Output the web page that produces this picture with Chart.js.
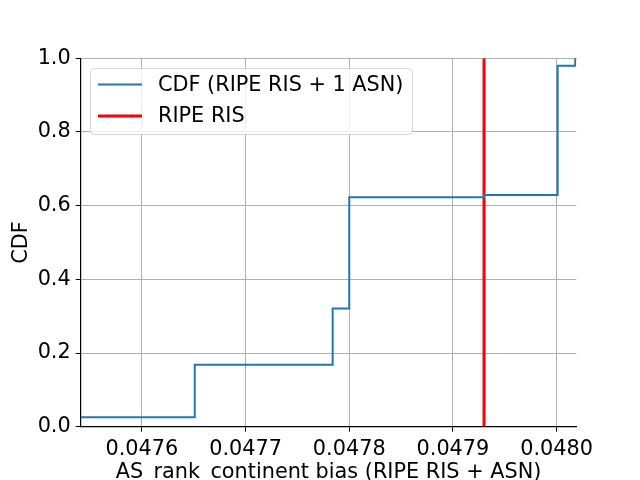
<!DOCTYPE html>
<html>
<head>
<meta charset="utf-8">
<script src="https://cdn.jsdelivr.net/npm/chart.js@4"></script>
<style>
  html, body { margin: 0; padding: 0; background: #fff; }
  #wrap { width: 640px; height: 480px; }
</style>
</head>
<body>
<div id="wrap"><canvas id="c" width="640" height="480"></canvas></div>
<script>
// step CDF
const cdfX = [0.047541, 0.047651, 0.047784, 0.047800, 0.047930, 0.048001, 0.048018, 0.048030];
const cdfY = [0.0256, 0.168, 0.321, 0.623, 0.629, 0.980, 1.0, 1.0];
const ripeX = 0.047930;
const xTicks = [0.0476, 0.0477, 0.0478, 0.0479, 0.0480];
const yTicks = [0.0, 0.2, 0.4, 0.6, 0.8, 1.0];
const labels = ['CDF (RIPE RIS + 1 ASN)', 'RIPE RIS'];

const FONT = 'DejaVu Sans';
const FSIZE = 20.8;
const GRID = '#b0b0b0';

const legendBox = {
    id: 'legendBox',
    afterDraw(chart) {
        const ctx = chart.ctx;
        const x = 90.5, y = 68.5, w = 322, h = 66, r = 4;
        ctx.save();
        ctx.beginPath();
        ctx.roundRect(x, y, w, h, r);
        ctx.fillStyle = 'rgba(255,255,255,0.8)';
        ctx.fill();
        ctx.strokeStyle = 'rgba(204,204,204,0.8)';
        ctx.lineWidth = 1;
        ctx.stroke();
        ctx.font = FSIZE + 'px "' + FONT + '"';
        ctx.textBaseline = 'middle';
        ctx.fillStyle = '#000';
        chart.data.datasets.forEach((ds, i) => {
            const cy = 84.5 + i * 31.5;
            ctx.beginPath();
            ctx.moveTo(98, cy);
            ctx.lineTo(142, cy);
            ctx.strokeStyle = ds.borderColor;
            ctx.lineWidth = ds.borderWidth;
            ctx.stroke();
            ctx.fillText(ds.label, 158, cy + 1);
        });
        ctx.restore();
    }
};

new Chart(document.getElementById('c'), {
    type: 'scatter',
    data: {
        datasets: [{
            label: labels[0],
            data: cdfX.map((x, i) => ({ x, y: cdfY[i] })),
            showLine: true,
            stepped: 'before',
            borderColor: '#1f77b4',
            borderWidth: 2,
            pointRadius: 0,
            fill: false,
        }, {
            label: labels[1],
            data: [{ x: ripeX, y: 0 }, { x: ripeX, y: 1 }],
            showLine: true,
            borderColor: '#ff0000',
            borderWidth: 3,
            pointRadius: 0,
            fill: false,
        }],
    },
    options: {
        responsive: false,
        animation: false,
        layout: { padding: { left: 0, right: 63.7, top: 58.3, bottom: 0 } },
        scales: {
            x: {
                type: 'linear',
                min: 0.047541,
                max: 0.048019,
                afterBuildTicks: (s) => { s.ticks = xTicks.map((v) => ({ value: v })); },
                afterFit: (s) => { s.height = 53.3; },
                ticks: {
                    color: '#000',
                    font: { family: FONT, size: FSIZE },
                    padding: 5,
                    maxRotation: 0,
                    callback: (v) => v.toFixed(4),
                },
                grid: { color: GRID, lineWidth: 1, tickLength: 5, tickColor: '#000', drawOnChartArea: true },
                border: { color: '#000', width: 1.2 },
                title: {
                    display: true,
                    text: 'AS_rank_continent bias (RIPE RIS + ASN)',
                    color: '#000',
                    font: { family: FONT, size: FSIZE },
                    padding: { top: 0, bottom: -5 },
                },
            },
            y: {
                min: 0,
                max: 1,
                afterBuildTicks: (s) => { s.ticks = yTicks.map((v) => ({ value: v })); },
                afterFit: (s) => { s.width = 80.7; },
                ticks: {
                    color: '#000',
                    font: { family: FONT, size: FSIZE },
                    padding: 5,
                    callback: (v) => v.toFixed(1),
                },
                grid: { color: GRID, lineWidth: 1, tickLength: 5, tickColor: '#000' },
                border: { color: '#000', width: 1.2 },
                title: {
                    display: true,
                    text: 'CDF',
                    color: '#000',
                    font: { family: FONT, size: FSIZE },
                    padding: { top: 9, bottom: 0 },
                },
            },
        },
        plugins: {
            legend: { display: false },
            tooltip: { enabled: false },
        },
    },
    plugins: [legendBox],
});
</script>
</body>
</html>
